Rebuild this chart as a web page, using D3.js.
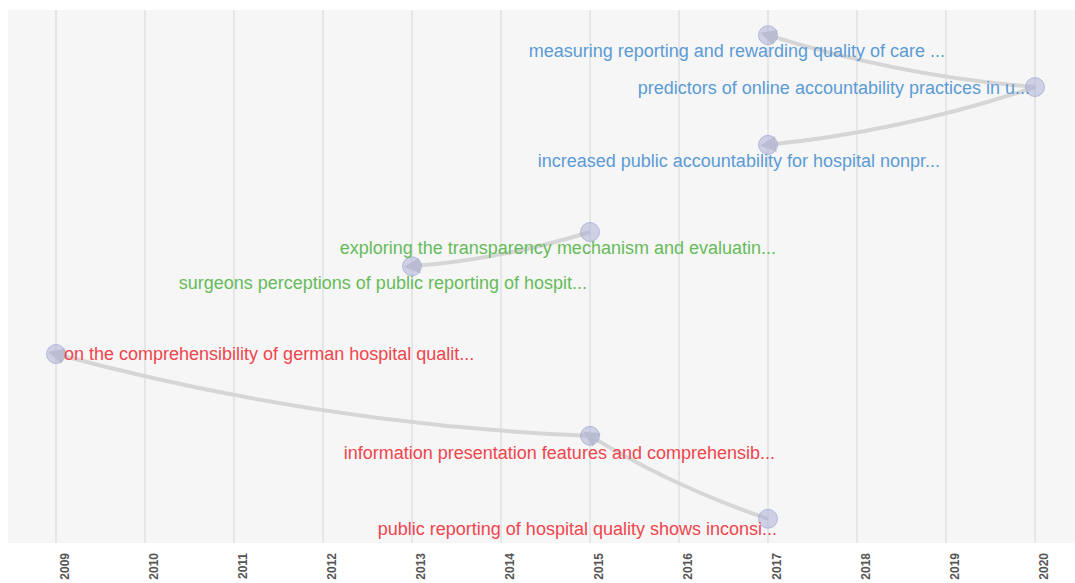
<!DOCTYPE html>
<html>
<head>
<meta charset="utf-8">
<script src="https://cdn.jsdelivr.net/npm/d3@7"></script>
<style>
  html, body { margin: 0; padding: 0; background: #fff; }
  svg { display: block; }
</style>
</head>
<body>
<div id="chart"></div>
<script>
// Papers (nodes)
var titles = [
    "measuring reporting and rewarding quality of care ...",
    "predictors of online accountability practices in u...",
    "increased public accountability for hospital nonpr...",
    "exploring the transparency mechanism and evaluatin...",
    "surgeons perceptions of public reporting of hospit...",
    "on the comprehensibility of german hospital qualit...",
    "information presentation features and comprehensib...",
    "public reporting of hospital quality shows inconsi..."
];
var years = [2017, 2020, 2017, 2015, 2013, 2009, 2015, 2017];
var groups = [0, 0, 0, 1, 1, 2, 2, 2];
// vertical slot of each paper (0 = top, 100 = bottom)
var rows = [4.7, 14.4, 25.2, 41.5, 47.9, 64.3, 79.6, 95.1];

// citations: citing paper -> cited paper
var linkSource = [1, 1, 3, 6, 7];
var linkTarget = [0, 2, 4, 5, 6];

var yearTicks = [2009, 2010, 2011, 2012, 2013, 2014, 2015, 2016, 2017, 2018, 2019, 2020];
var groupColors = ["#5b9bd5", "#66bb5a", "#f0454c"];

// label placement relative to the node (text end unless anchored at start)
var labelDx = [177, -5, 172, 186, 175, 8, 185, 9];
var labelDy = [22, 7, 22, 22, 23, 6, 23, 16];
var labelAnchor = ["end", "end", "end", "end", "end", "start", "end", "end"];

var width = 1075, height = 583;

var svg = d3.select("#chart").append("svg")
    .attr("width", width)
    .attr("height", height);

var x = d3.scaleLinear().domain([2009, 2020]).range([56, 1035]);
var y = d3.scaleLinear().domain([0, 100]).range([10, 545]);

// background panel
svg.append("rect")
    .attr("x", 8)
    .attr("y", 10)
    .attr("width", width - 8)
    .attr("height", 533)
    .style("fill", "#f6f6f6");

// year gridlines
svg.append("g").selectAll("line")
    .data(yearTicks)
    .enter()
    .append("line")
    .attr("x1", function(d) { return x(d); })
    .attr("x2", function(d) { return x(d); })
    .attr("y1", 10)
    .attr("y2", 543)
    .style("stroke", "#e6e6e6")
    .style("stroke-width", 2);

// year labels
svg.append("g").selectAll("text")
    .data(yearTicks)
    .enter()
    .append("text")
    .attr("transform", function(d) {
        return "translate(" + (x(d) + 13) + ",553) rotate(-90)";
    })
    .attr("text-anchor", "end")
    .style("font-family", "'Liberation Sans', Arial, sans-serif")
    .style("font-size", "12px")
    .style("font-weight", "bold")
    .style("fill", "#555")
    .text(function(d) { return d; });

var nodes = titles.map(function(t, i) {
    return { title: t, year: years[i], group: groups[i], row: rows[i], i: i };
});
var links = linkSource.map(function(s, i) {
    return { source: nodes[s], target: nodes[linkTarget[i]] };
});

// arrow marker
svg.append("defs").append("marker")
    .attr("id", "arrow")
    .attr("viewBox", "0 -5 10 10")
    .attr("refX", 5)
    .attr("refY", 0)
    .attr("markerWidth", 4)
    .attr("markerHeight", 4)
    .attr("orient", "auto")
    .append("path")
    .attr("d", "M0,-5L10,0L0,5")
    .style("fill", "#cfcfcf");

// links as gentle arcs
svg.append("g").selectAll("path")
    .data(links)
    .enter()
    .append("path")
    .attr("d", function(d) {
        var sx = x(d.source.year), sy = y(d.source.row);
        var tx = x(d.target.year), ty = y(d.target.row);
        var dr = Math.sqrt((tx - sx) * (tx - sx) + (ty - sy) * (ty - sy)) * 4.5;
        return "M" + sx + "," + sy + "A" + dr + "," + dr + " 0 0,1 " + tx + "," + ty;
    })
    .attr("marker-end", "url(#arrow)")
    .style("fill", "none")
    .style("stroke", "#d6d6d6")
    .style("stroke-width", 4);

// nodes
svg.append("g").selectAll("circle")
    .data(nodes)
    .enter()
    .append("circle")
    .attr("cx", function(d) { return x(d.year); })
    .attr("cy", function(d) { return y(d.row); })
    .attr("r", 9.5)
    .style("fill", "rgba(165,172,212,0.5)")
    .style("stroke", "rgba(150,160,205,0.6)")
    .style("stroke-width", 1);

// labels
svg.append("g").selectAll("text")
    .data(nodes)
    .enter()
    .append("text")
    .attr("x", function(d) { return x(d.year) + labelDx[d.i]; })
    .attr("y", function(d) { return y(d.row) + labelDy[d.i]; })
    .attr("text-anchor", function(d) { return labelAnchor[d.i]; })
    .style("font-family", "'Liberation Sans', Arial, sans-serif")
    .style("font-size", "18px")
    .style("fill", function(d) { return groupColors[d.group]; })
    .text(function(d) { return d.title; });
</script>
</body>
</html>
